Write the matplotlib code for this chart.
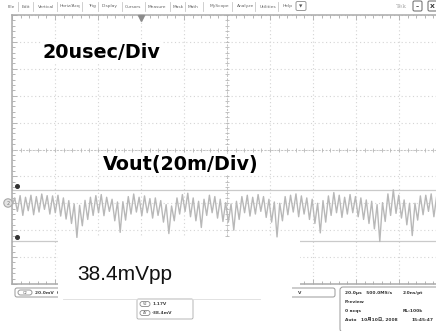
import numpy as np
import matplotlib.pyplot as plt
from matplotlib.patches import Rectangle, FancyBboxPatch, Circle
from matplotlib.transforms import Affine2D

W, H = 436, 331

# scope settings
time_per_div = 20.0      # usec / div
volt_per_div = 20.0      # mV / div
ch2_offset_div = -2.0    # ground marker of CH2
trigger_pos = -40.0      # usec

# ripple peaks / troughs (mV, relative to CH2 ground), read left to right
ripple_mv = [
    -2.0, 4.0, -6.0, 5.7, -9.0, 4.5, -5.5, 6.0, -8.5, 5.0, -6.5, 6.9, -4.5, 5.7, -8.0, 5.5,
    -7.0, 6.0, -9.5, 4.0, -11.7, 2.0, -15.0, -0.5, -25.4, -1.5, -16.7, 2.2, -12.0, 4.5, -9.0, 5.7,
    -7.0, 6.5, -9.2, 4.5, -6.0, 3.0, -13.0, 1.0, -21.6, 1.2, -12.5, 5.0, -8.0, 6.9, -6.5, 4.5,
    -9.2, 5.5, -7.0, 3.5, -11.0, 4.0, -9.0, 2.0, -14.0, -1.0, -22.5, -2.0, -13.0, 4.0, -8.0, 6.5,
    -6.0, 7.5, -10.0, 4.0, -13.0, 1.5, -18.0, 3.0, -9.0, 6.0, -7.0, 5.0, -11.0, 3.0, -13.5, 0.5,
    -14.0, -0.5, -20.0, 1.5, -12.0, 5.0, -7.0, 6.0, -9.5, 4.5, -8.0, 6.5, -6.0, 5.0, -10.5, 3.0,
    -14.0, 1.0, -25.0, 0.0, -13.0, 5.0, -8.5, 6.0, -6.5, 7.0, -10.0, 5.5, -8.0, 4.0, -12.0, 3.0,
    -15.0, 0.0, -22.0, 2.0, -14.0, 5.5, -9.0, 8.0, -7.0, 6.0, -10.5, 4.5, -8.0, 6.5, -7.0, 5.0,
    -10.0, 4.0, -12.0, 2.5, -15.0, 1.5, -19.0, -1.0, -28.4, 0.5, -13.5, 7.0, -9.0, 10.0, -7.5, 6.0,
    -11.0, 2.5, -16.0, 0.0, -24.0, 0.0, -12.5, 5.5, -8.5, 6.0, -6.0, 7.0, -10.0, 5.0, -7.5, 4.0,
]

cursor_top_mv = 10.0
cursor_bot_mv = -28.4

menu_items = ["File", "Edit", "Vertical", "Horiz/Acq", "Trig", "Display", "Cursors",
              "Measure", "Mask", "Math", "MyScope", "Analyze", "Utilities", "Help"]
menu_x = [8, 22, 38, 60, 88, 102, 125, 148, 173, 188, 210, 237, 260, 283]
menu_sep = [18, 33, 57, 82, 98, 122, 145, 170, 185, 203, 232, 255, 278]

info_rows = [
    ("20.0\u03bcs   500.0MS/s", "2.0ns/pt", 293),
    ("Preview", "", 302),
    ("0 acqs", "RL:100k", 311),
    ("Auto   10\u670810\u65e5, 2008", "15:45:47", 320),
]

plt.rcParams['font.family'] = ['DejaVu Sans', 'Noto Sans CJK JP']

fig = plt.figure(figsize=(W / 100, H / 100), dpi=100)
fig.patch.set_facecolor('white')
# pixel coordinates (origin top-left) for the screen furniture
pix = Affine2D().scale(1 / W, -1 / H).translate(0, 1) + fig.transFigure

# ---- graticule / trace ----
left, top, gw, gh = 12, 15, 430, 269
ax = fig.add_axes([left / W, (H - top - gh) / H, gw / W, gh / H])
ax.set_xlim(-5 * time_per_div, 5 * time_per_div)
ax.set_ylim(-5 * volt_per_div, 5 * volt_per_div)
ax.set_facecolor('white')
ax.set_xticks(np.arange(-100, 101, 20))
ax.set_xticks(np.arange(-100, 101, 4), minor=True)
ax.set_yticks(np.arange(-100, 101, 20))
ax.set_yticks(np.arange(-100, 101, 4), minor=True)
ax.tick_params(which='both', direction='in', labelleft=False, labelbottom=False,
               left=True, top=True, bottom=True, right=False, color='#b4b4b4', width=0.7)
ax.tick_params(which='major', length=3.5)
ax.tick_params(which='minor', length=2.2)
ax.grid(True, which='major', color='#d4d4d4', linestyle=(0, (1, 2.4)), linewidth=0.8)
for s in ['left', 'top', 'bottom']:
    ax.spines[s].set_color('#aaaaaa')
    ax.spines[s].set_linewidth(1.1)
ax.spines['right'].set_visible(False)

# center cross with its small ticks
ax.axhline(0, color='#c4c4c4', lw=0.7, linestyle=(0, (2, 1.5)))
ax.axvline(0, color='#c4c4c4', lw=0.7, linestyle=(0, (2, 1.5)))
mt = np.arange(-100, 101, 4)
ax.plot(mt, np.zeros_like(mt), ls='none', marker='|', ms=3, color='#b8b8b8', mew=0.6)
ax.plot(np.zeros_like(mt), mt, ls='none', marker='_', ms=3, color='#b8b8b8', mew=0.6)

offset = ch2_offset_div * volt_per_div
t = np.linspace(-5 * time_per_div, 5 * time_per_div, len(ripple_mv))
ax.plot(t, np.array(ripple_mv) + offset, color='#b8b8b8', lw=1.0, zorder=3)

# cursors
for c in [cursor_top_mv, cursor_bot_mv]:
    ax.axhline(c + offset, color='#cacaca', lw=0.9, zorder=2)
    ax.plot([-97.7], [c + offset + 3], marker='o', ms=2.6, color='#333333', zorder=4,
            clip_on=False)

# trigger position marker
ax.plot([trigger_pos], [98], marker='v', ms=4, color='#8c8c8c', clip_on=False, zorder=4)

# CH2 ground marker
fig.add_artist(Circle((8, 203), 4.2, transform=pix, facecolor='#e4e4e4',
                      edgecolor='#a8a8a8', lw=0.8, zorder=6))
fig.text(8, 203.5, '2', transform=pix, fontsize=3.5, ha='center', va='center',
         color='#777777', zorder=7)

# ---- menu bar ----
for name, x in zip(menu_items, menu_x):
    fig.text(x, 6.5, name, transform=pix, fontsize=3.2, color='#666666',
             ha='left', va='center')
for x in menu_sep:
    fig.add_artist(plt.Line2D([x, x], [2, 11], transform=pix, color='#c8c8c8', lw=0.6))
fig.add_artist(FancyBboxPatch((296, 1.5), 10, 9, boxstyle='round,pad=0,rounding_size=1.5',
                              transform=pix, facecolor='white', edgecolor='#999999', lw=0.7))
fig.text(301, 6.5, '\u25bc', transform=pix, fontsize=3.2, color='#555555',
         ha='center', va='center')
fig.text(401, 6.5, 'Tek', transform=pix, fontsize=4.5, color='#aaaaaa',
         ha='center', va='center', family='serif')
for x0, s in [(413, '\u2013'), (428, 'X')]:
    fig.add_artist(FancyBboxPatch((x0, 1), 9, 10, boxstyle='round,pad=0,rounding_size=1.5',
                                  transform=pix, facecolor='white', edgecolor='#777777',
                                  lw=0.8))
    fig.text(x0 + 4.5, 6.5, s, transform=pix, fontsize=4.5, color='#333333',
             ha='center', va='center', weight='bold')

# ---- readouts at the bottom ----
fig.add_artist(FancyBboxPatch((15, 288), 320, 9, boxstyle='round,pad=0,rounding_size=2',
                              transform=pix, facecolor='white', edgecolor='#999999', lw=0.7))
fig.add_artist(FancyBboxPatch((18, 290), 14, 5, boxstyle='round,pad=0,rounding_size=2.5',
                              transform=pix, facecolor='white', edgecolor='#888888', lw=0.6))
fig.text(25, 292.7, 'C2', transform=pix, fontsize=2.6, ha='center', va='center',
         color='#555555')
fig.text(35, 292.7, '20.0mV  C', transform=pix, fontsize=3.2, ha='left', va='center',
         color='#444444', weight='bold')
fig.text(298, 292.7, 'V', transform=pix, fontsize=3.2, ha='left', va='center',
         color='#444444', weight='bold')

fig.add_artist(FancyBboxPatch((137, 299), 56, 20, boxstyle='round,pad=0,rounding_size=1.5',
                              transform=pix, facecolor='white', edgecolor='#aaaaaa', lw=0.6))
for lab, val, y in [('V2', '1.17V', 304), ('\u0394Y', '-38.4mV', 313)]:
    fig.add_artist(FancyBboxPatch((140, y - 2.5), 10, 5, boxstyle='round,pad=0,rounding_size=2.5',
                                  transform=pix, facecolor='white', edgecolor='#888888',
                                  lw=0.6))
    fig.text(145, y, lab, transform=pix, fontsize=2.5, ha='center', va='center',
             color='#555555')
    fig.text(152, y, val, transform=pix, fontsize=3.2, ha='left', va='center',
             color='#444444', weight='bold')

fig.add_artist(FancyBboxPatch((340, 287), 110, 45, boxstyle='round,pad=0,rounding_size=3',
                              transform=pix, facecolor='white', edgecolor='#999999', lw=0.7))
for l, r, y in info_rows:
    fig.text(345, y, l, transform=pix, fontsize=3.2, ha='left', va='center',
             color='#333333', weight='bold')
    if r:
        fig.text(403 if y < 315 else 411, y, r, transform=pix, fontsize=3.2, ha='left',
                 va='center', color='#333333', weight='bold')

# ---- annotations ----
fig.add_artist(Rectangle((58, 238), 242, 48, transform=pix, facecolor='white',
                         edgecolor='none', zorder=8))
fig.add_artist(Rectangle((58, 286), 234, 12, transform=pix, facecolor='white',
                         edgecolor='none', zorder=8))
fig.add_artist(plt.Line2D([63, 260], [298.5, 298.5], transform=pix, color='#dddddd',
                          lw=0.6, zorder=8))
fig.text(77, 279.5, '38.4mVpp', transform=pix, fontsize=15, family='Liberation Sans',
         ha='left', va='baseline', color='#111111', zorder=9)

fig.text(42, 58, '20usec/Div', transform=pix, fontsize=13.8, weight='bold',
         ha='left', va='baseline', color='black', zorder=9,
         bbox=dict(facecolor='white', edgecolor='none', pad=0.5))
fig.text(103, 170, 'Vout(20m/Div)', transform=pix, fontsize=13.8, weight='bold',
         ha='left', va='baseline', color='black', zorder=9,
         bbox=dict(facecolor='white', edgecolor='none', pad=0.5))

fig.savefig('out.png', dpi=100, facecolor='white')
